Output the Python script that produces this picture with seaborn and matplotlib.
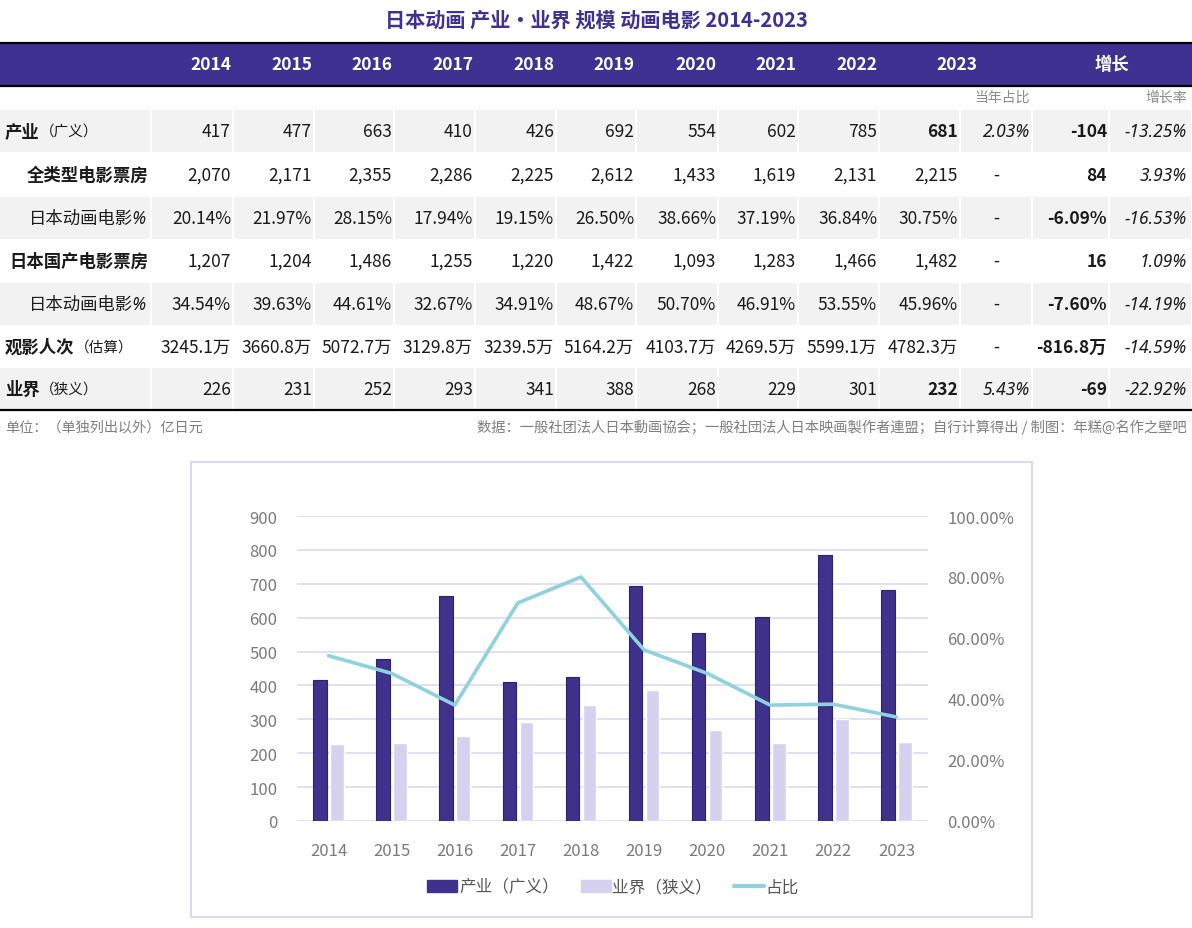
import numpy as np
import pandas as pd
import seaborn as sns
import matplotlib.pyplot as plt
from matplotlib.patches import Rectangle, Patch
from matplotlib.lines import Line2D

sns.set_theme(style='white')
plt.rcParams['font.family'] = ['Noto Sans CJK SC', 'DejaVu Sans']

# 数据
years = [2014, 2015, 2016, 2017, 2018, 2019, 2020, 2021, 2022, 2023]
industry = [417, 477, 663, 410, 426, 692, 554, 602, 785, 681]
all_box = [2070, 2171, 2355, 2286, 2225, 2612, 1433, 1619, 2131, 2215]
anime_pct_all = [20.14, 21.97, 28.15, 17.94, 19.15, 26.50, 38.66, 37.19, 36.84, 30.75]
domestic_box = [1207, 1204, 1486, 1255, 1220, 1422, 1093, 1283, 1466, 1482]
anime_pct_dom = [34.54, 39.63, 44.61, 32.67, 34.91, 48.67, 50.70, 46.91, 53.55, 45.96]
admissions = [3245.1, 3660.8, 5072.7, 3129.8, 3239.5, 5164.2, 4103.7, 4269.5, 5599.1, 4782.3]
narrow = [226, 231, 252, 293, 341, 388, 268, 229, 301, 232]
share_2023 = ['2.03%', '-', '-', '-', '-', '-', '5.43%']
growth = ['-104', '84', '-6.09%', '16', '-7.60%', '-816.8万', '-69']
growth_rate = ['-13.25%', '3.93%', '-16.53%', '1.09%', '-14.19%', '-14.59%', '-22.92%']
ratio = [54.2, 48.4, 38.0, 71.5, 80.0, 56.1, 48.4, 38.0, 38.3, 34.1]

DARK = '#3f318c'
LIGHT = '#d6d1ef'
CYAN = '#8fd1dd'
GRAY_CELL = '#f2f2f2'
TXT = '#1a1a1a'

W, H = 1192, 929
fig = plt.figure(figsize=(W / 100, H / 100), dpi=100)

# 表格层（像素坐标）
tab = fig.add_axes([0, 0, 1, 1])
tab.set_xlim(0, W)
tab.set_ylim(H, 0)
tab.axis('off')

tab.text(W / 2, 20, '日本动画 产业・业界 规模 动画电影 2014-2023', ha='center', va='center',
         fontsize=14.5, fontweight='bold', color='#3e3191')

# 表头
tab.add_patch(Rectangle((0, 44), W, 42, color='#3e3191', lw=0))
tab.plot([0, W], [43.5, 43.5], color='black', lw=1.6)
tab.plot([0, W], [86.5, 86.5], color='black', lw=1.6)
xr = [231, 312, 392, 473, 554, 634, 716, 796, 877, 958]
for i, y in enumerate(years[:-1]):
    tab.text(xr[i], 65, str(y), ha='right', va='center', color='white', fontsize=12.5, fontweight='bold')
tab.text(957, 65, str(years[-1]), ha='center', va='center', color='white', fontsize=12.5, fontweight='bold')
tab.text(1112, 65, '增长', ha='center', va='center', color='white', fontsize=12.5, fontweight='bold')
tab.text(1030, 98, '当年占比', ha='right', va='center', color='#8c8c8c', fontsize=10, style='italic')
tab.text(1187, 98, '增长率', ha='right', va='center', color='#8c8c8c', fontsize=10, style='italic')

# 单元格边界
edges = [0, 151, 233, 314, 394, 475, 556, 636, 718, 798, 879, 960, 1032, 1109, W]
row_y = [132, 175.5, 218.5, 261.5, 304.5, 347.5, 390]
row_h = 42

rows = [
    [str(v) for v in industry],
    [f'{v:,}' for v in all_box],
    [f'{v:.2f}%' for v in anime_pct_all],
    [f'{v:,}' for v in domestic_box],
    [f'{v:.2f}%' for v in anime_pct_dom],
    [f'{v:.1f}万' for v in admissions],
    [str(v) for v in narrow],
]
labels = [('产业', '（广义）', 'bold', 'left'),
          ('全类型电影票房', None, 'bold', 'right'),
          ('日本动画电影%', None, 'italic', 'right'),
          ('日本国产电影票房', None, 'bold', 'right'),
          ('日本动画电影%', None, 'italic', 'right'),
          ('观影人次', '（估算）', 'bold', 'left'),
          ('业界', '（狭义）', 'bold', 'left')]

fig.canvas.draw()
renderer = fig.canvas.get_renderer()

for r, yc in enumerate(row_y):
    if r % 2 == 0:
        for c in range(len(edges) - 1):
            x0 = edges[c] + (1 if c > 0 else 0)
            x1 = edges[c + 1] - 1
            tab.add_patch(Rectangle((x0, yc - row_h / 2), x1 - x0, row_h, color=GRAY_CELL, lw=0))
    main, sub, sty, al = labels[r]
    if al == 'left':
        t = tab.text(5, yc, main, ha='left', va='center', fontsize=12.5, fontweight='bold', color=TXT)
        bb = t.get_window_extent(renderer)
        tab.text(bb.x1, yc, sub, ha='left', va='center', fontsize=10.5, color=TXT)
    elif sty == 'italic':
        tab.text(147, yc, main, ha='right', va='center', fontsize=12.5, color=TXT,
                 style='italic', family=['Noto Sans', 'Noto Sans CJK SC'])
    else:
        tab.text(148, yc, main, ha='right', va='center', fontsize=12.5, fontweight='bold', color=TXT)
    for i, s in enumerate(rows[r]):
        bold = (i == 9 and r in (0, 6))
        tab.text(xr[i], yc, s, ha='right', va='center', fontsize=12.5, color=TXT,
                 fontweight='bold' if bold else 'normal')
    if share_2023[r] == '-':
        tab.text(996, yc, '-', ha='center', va='center', fontsize=12.5, color=TXT)
    else:
        tab.text(1030, yc, share_2023[r], ha='right', va='center', fontsize=12.5, color=TXT,
                 style='italic', family=['Noto Sans', 'Noto Sans CJK SC'])
    tab.text(1107, yc, growth[r], ha='right', va='center', fontsize=12.5, color=TXT, fontweight='bold')
    tab.text(1187, yc, growth_rate[r], ha='right', va='center', fontsize=12.5, color=TXT,
             style='italic', family=['Noto Sans', 'Noto Sans CJK SC'])

tab.plot([0, W], [411, 411], color='black', lw=1.6)
tab.text(5, 427, '单位：（单独列出以外）亿日元', ha='left', va='center', fontsize=10.2, color='#7f7f7f')
tab.text(1187, 427, '数据：一般社团法人日本動画協会；一般社団法人日本映画製作者連盟；自行计算得出 / 制图：年糕@名作之壁吧',
         ha='right', va='center', fontsize=10.3, color='#7f7f7f')

# 图表外框
tab.add_patch(Rectangle((191, 463), 841, 455, fill=False, edgecolor='#dcd9ee', lw=1.5))

# 图表
ax = fig.add_axes([297 / W, (H - 822) / H, (928 - 297) / W, (822 - 517) / H])
ax.patch.set_alpha(0)
df = pd.DataFrame({
    'year': [str(y) for y in years] * 2,
    'value': industry + narrow,
    'series': ['产业（广义）'] * 10 + ['业界（狭义）'] * 10,
})
sns.barplot(data=df, x='year', y='value', hue='series', palette=[DARK, LIGHT],
            width=0.54, gap=0.2, ax=ax, legend=False, saturation=1)
for p in ax.patches[:10]:
    p.set_edgecolor('#2c2270')
    p.set_linewidth(0.8)
ax.set_xlim(-0.5, 9.5)
ax.set_ylim(0, 900)
ax.set_yticks(range(0, 901, 100))
ax.yaxis.grid(True, color='#dcd9ee', lw=1.2)
ax.set_axisbelow(True)
for s in ax.spines.values():
    s.set_visible(False)
ax.set_xlabel('')
ax.set_ylabel('')
ax.tick_params(axis='y', length=0, pad=14, labelsize=12, labelcolor='#7a7a7a')
ax.tick_params(axis='x', length=0, pad=15, labelsize=12, labelcolor='#7a7a7a')

ax2 = ax.twinx()
sns.lineplot(x=np.arange(10), y=np.array(ratio) / 100, ax=ax2, color=CYAN, lw=2.6)
ax2.set_ylim(0, 1)
ax2.set_yticks(np.arange(0, 1.01, 0.2))
ax2.set_yticklabels([f'{v * 100:.2f}%' for v in np.arange(0, 1.01, 0.2)])
for s in ax2.spines.values():
    s.set_visible(False)
ax2.tick_params(axis='y', length=0, pad=14, labelsize=12, labelcolor='#7a7a7a')
ax2.set_ylabel('')

handles = [Patch(color=DARK, label='产业（广义）'), Patch(color=LIGHT, label='业界（狭义）'),
           Line2D([], [], color=CYAN, lw=3, label='占比')]
fig.legend(handles=handles, loc='center', bbox_to_anchor=(613 / W, 1 - 888 / H), ncol=3,
           frameon=False, fontsize=12, handlelength=1.8, handletextpad=0.1, columnspacing=1.3,
           labelcolor='#555555')

plt.savefig('out.png', dpi=100)
